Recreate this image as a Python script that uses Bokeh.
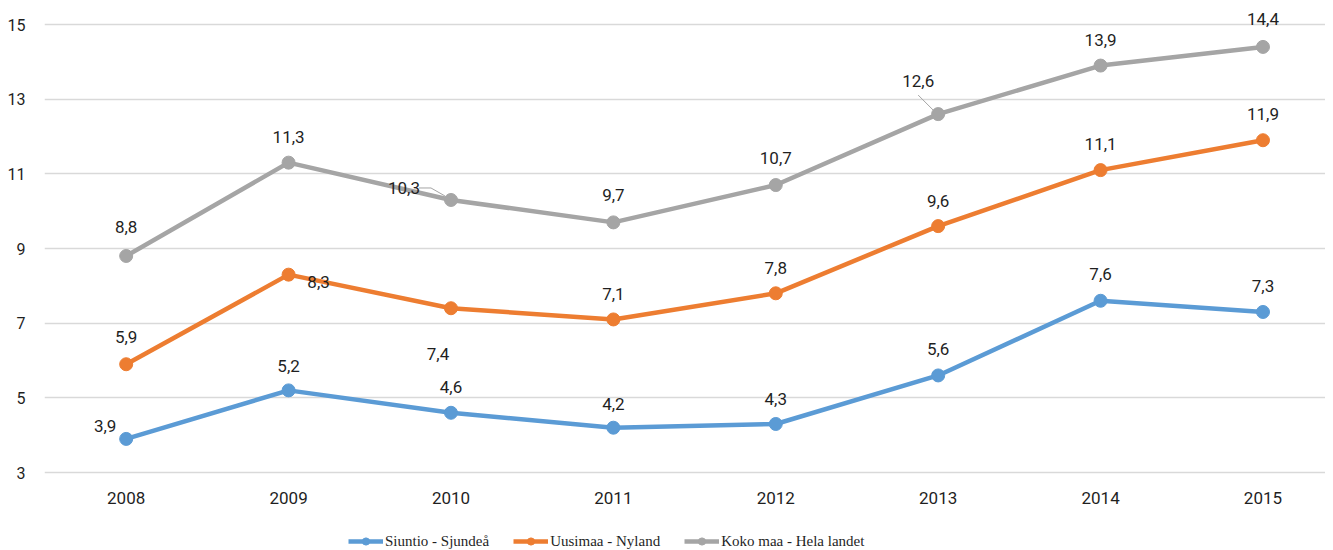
from bokeh.plotting import figure
from bokeh.models import (ColumnDataSource, Range1d, FixedTicker, Legend, LegendItem)
from bokeh.core.properties import value
from bokeh.embed import file_html
from bokeh.resources import INLINE

years = ["2008", "2009", "2010", "2011", "2012", "2013", "2014", "2015"]
siuntio = [3.9, 5.2, 4.6, 4.2, 4.3, 5.6, 7.6, 7.3]
uusimaa = [5.9, 8.3, 7.4, 7.1, 7.8, 9.6, 11.1, 11.9]
koko = [8.8, 11.3, 10.3, 9.7, 10.7, 12.6, 13.9, 14.4]
y_ticks = [3, 5, 7, 9, 11, 13, 15]
series_names = ["Siuntio - Sjundeå", "Uusimaa - Nyland", "Koko maa - Hela landet"]

# label offsets in screen pixels (style)
off_siuntio = [(-21, 13), (0, 24), (0, 26), (0, 24), (0, 25), (0, 26), (0, 27), (0, 26)]
off_uusimaa = [(0, 27), (30, -7), (-13, -46), (0, 25), (0, 25), (0, 25), (0, 26), (0, 26)]
off_koko = [(0, 29), (0, 26), (-47, 12), (0, 27), (0, 27), (-20, 33), (0, 26), (0, 28)]

colors = ["#5B9BD5", "#ED7D31", "#A5A5A5"]
FONT = "Roboto"
LFONT = "Liberation Sans Narrow"

W, H = 1325, 550
ML, MT, MB = 44, 9, 0
x_range = Range1d(-0.503, 7.385)
y_range = Range1d(0.911, 15.402)

p = figure(width=W, height=H, x_range=x_range, y_range=y_range,
           output_backend="svg", toolbar_location=None,
           min_border_left=ML, min_border_right=0, min_border_top=MT,
           min_border_bottom=MB)
p.outline_line_color = None
p.background_fill_color = "white"
p.border_fill_color = "white"

xi = list(range(len(years)))
p.xaxis.ticker = FixedTicker(ticks=xi)
p.xaxis.major_label_overrides = {i: y for i, y in enumerate(years)}
p.xaxis.fixed_location = y_ticks[0]
p.yaxis.ticker = FixedTicker(ticks=y_ticks)
for ax in (p.xaxis[0], p.yaxis[0]):
    ax.axis_line_color = None
    ax.major_tick_line_color = None
    ax.minor_tick_line_color = None
    ax.major_tick_out = 0
    ax.major_tick_in = 0
    ax.major_label_text_font = FONT
    ax.major_label_text_font_size = "16px"
    ax.major_label_text_color = "#1f1f1f"
p.xaxis.major_label_text_font_size = "17px"
p.yaxis.major_label_standoff = 19
p.xaxis.major_label_standoff = 19
p.xgrid.grid_line_color = None
p.ygrid.grid_line_color = "#D9D9D9"
p.ygrid.grid_line_width = 1.5
p.ygrid.ticker = FixedTicker(ticks=y_ticks)

items = []
all_series = [siuntio, uusimaa, koko]
all_offs = [off_siuntio, off_uusimaa, off_koko]
for name, vals, offs, c in zip(series_names, all_series, all_offs, colors):
    src = ColumnDataSource(dict(x=xi, y=vals,
                                lbl=[f"{v:.1f}".replace(".", ",") for v in vals],
                                dx=[o[0] for o in offs], dy=[-o[1] for o in offs]))
    r1 = p.line("x", "y", source=src, line_color=c, line_width=4.5)
    r2 = p.scatter("x", "y", source=src, size=13, fill_color=c, line_color=c)
    p.text("x", "y", text="lbl", source=src, x_offset="dx", y_offset="dy",
           text_align="center", text_baseline="middle",
           text_font=value(FONT), text_font_size="17px", text_color="#1f1f1f")
    items.append(LegendItem(label=name, renderers=[r1, r2]))

# leader lines (converted from pixel offsets to data units)
frame_w = W - ML
frame_h = H - MT - MB
ppx = frame_w / (x_range.end - x_range.start)
ppy = frame_h / (y_range.end - y_range.start)
lx0, ly0, lx1, ly1 = [], [], [], []
leaders = [(2, koko, [(-32, -12), (-20, -12), (-6, -4)]),
           (5, koko, [(-20, -19), (-5, -4)])]
for idx, vals, pts in leaders:
    for (a, b), (c2, d) in zip(pts[:-1], pts[1:]):
        lx0.append(idx + a / ppx); ly0.append(vals[idx] - b / ppy)
        lx1.append(idx + c2 / ppx); ly1.append(vals[idx] - d / ppy)
p.segment(lx0, ly0, lx1, ly1, line_color="#A5A5A5", line_width=1)

legend = Legend(items=items, orientation="horizontal", location=(304, 0),
                label_text_font=LFONT, label_text_font_size="15px",
                label_text_color="#1f1f1f", glyph_width=35, glyph_height=18,
                spacing=24, label_standoff=2, border_line_color=None,
                padding=0, margin=0, background_fill_alpha=0)
p.add_layout(legend)

open("out.html", "w").write(file_html(p, INLINE))
